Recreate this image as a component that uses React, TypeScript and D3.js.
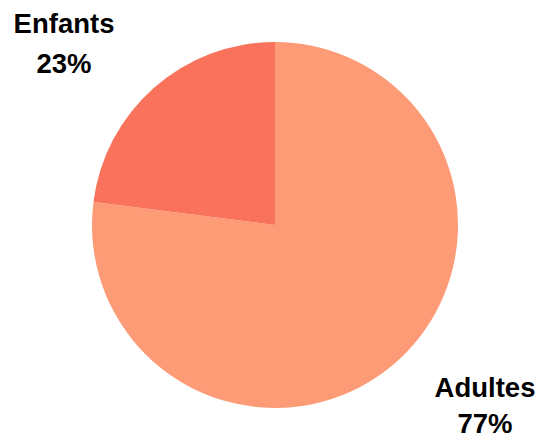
import React from "react";
import * as d3 from "d3";

const categories = ["Adultes", "Enfants"];
const values = [77, 23];
const colors = ["#fd9b77", "#f8725c"];

const W = 541;
const H = 437;
const cx = 275;
const cy = 225;
const R = 183;

export default function App() {
  const data = categories.map((c, i) => ({ c, v: values[i], color: colors[i] }));
  const pie = d3.pie<any>().sort(null).value((d) => d.v);
  const arcs = pie(data);
  const arc = d3.arc<any>().innerRadius(0).outerRadius(R);
  const labelPos = [
    { x: 485, y1: 397, y2: 433 },
    { x: 64, y1: 33, y2: 73 },
  ];
  return (
    <svg width={W} height={H} style={{ position: "absolute", left: 0, top: 0 }}>
      <g transform={`translate(${cx},${cy})`}>
        {arcs.map((a, i) => (
          <path key={i} d={arc(a) as string} fill={a.data.color} />
        ))}
      </g>
      {arcs.map((a, i) => (
        <g key={"l" + i} fontFamily="Liberation Sans, Arial, sans-serif" fontWeight="bold" fontSize={27.5} textAnchor="middle" fill="#000">
          <text x={labelPos[i].x} y={labelPos[i].y1}>{a.data.c}</text>
          <text x={labelPos[i].x} y={labelPos[i].y2}>{a.data.v + "%"}</text>
        </g>
      ))}
    </svg>
  );
}
